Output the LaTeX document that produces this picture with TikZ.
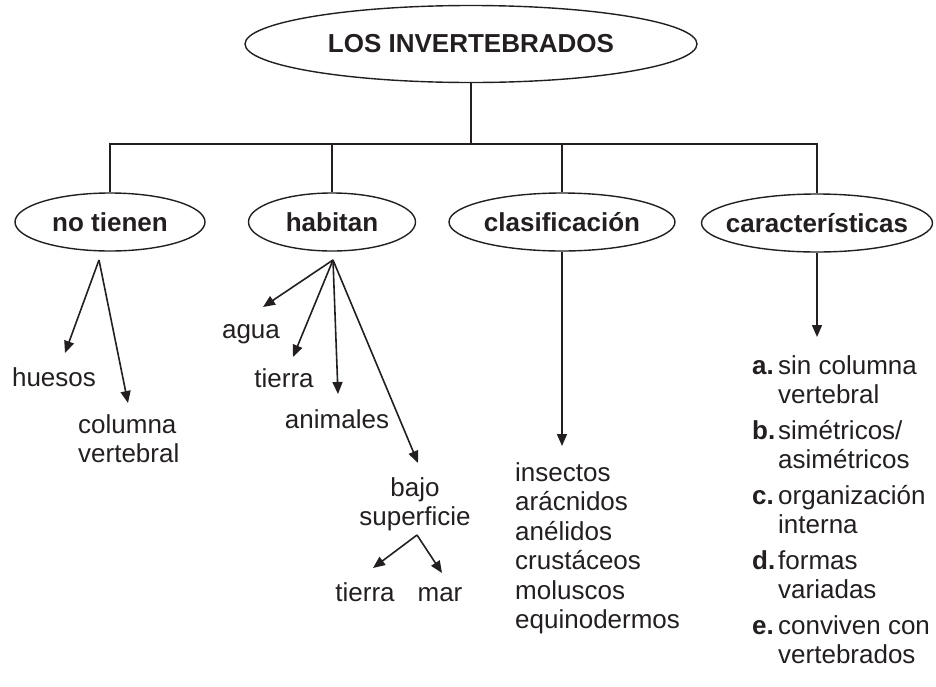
\documentclass[tikz,border=0pt]{standalone}
\usepackage{fontspec}
\setmainfont{Liberation Sans}
\usetikzlibrary{arrows.meta, shapes.geometric}

\definecolor{ink}{RGB}{35,31,32}

\begin{document}
\begin{tikzpicture}[
    x=1pt, y=-1pt,
    line_style/.style={line width=1.6pt, draw=ink},
    arrow_style/.style={line_style, -{Triangle[length=12pt, width=10pt]}},
    oval_style/.style={ellipse, draw=ink, line width=1.4pt, inner sep=0pt, minimum height=58pt},
    oval_label/.style={font=\fontsize{26}{30}\selectfont\bfseries, text=ink},
    text_style/.style={font=\fontsize{26}{29.5}\selectfont, text=ink, inner sep=0pt},
    item_label/.style={text_style, font=\fontsize{26}{29.5}\selectfont\bfseries}
]
    \useasboundingbox (0,0) rectangle (936,686);

    % Ovals
    \node[oval_style, minimum width=452pt, minimum height=77pt,
          label={[oval_label]center:LOS INVERTEBRADOS}] (title) at (471,44) {};
    \node[oval_style, minimum width=190pt, label={[oval_label]center:no tienen}] (notienen) at (110,222) {};
    \node[oval_style, minimum width=167pt, label={[oval_label]center:habitan}] (habitan) at (332,222) {};
    \node[oval_style, minimum width=226pt, label={[oval_label]center:clasificación}] (clasif) at (562,222) {};
    \node[oval_style, minimum width=231pt, label={[oval_label]center:características}] (caract) at (817,223) {};

    % Tree lines
    \coordinate (bar) at (471,144);
    \draw[line_style] (title.south) -- (bar);
    \draw[line_style] (notienen.north) -- (notienen.north |- bar) -- (caract.north |- bar) -- (caract.north);
    \draw[line_style] (habitan.north) -- (habitan.north |- bar);
    \draw[line_style] (clasif.north) -- (clasif.north |- bar);

    % Texts
    \node[text_style, anchor=base] (huesos) at (54,386) {huesos};
    \node[text_style, anchor=north west, align=left] (columna) at (78,414) {columna\\vertebral};
    \node[text_style, anchor=base] (agua) at (251,338) {agua};
    \node[text_style, anchor=base] (tierra) at (284,387) {tierra};
    \node[text_style, anchor=base] (animales) at (337,428) {animales};
    \node[text_style, anchor=north, align=center] (bajo) at (415,477) {bajo\\superficie};
    \node[text_style, anchor=base] (tierra_bajo) at (365,601) {tierra};
    \node[text_style, anchor=base] (mar) at (440,601) {mar};
    \node[text_style, anchor=north west, align=left] (grupos) at (515,462)
        {insectos\\arácnidos\\anélidos\\crustáceos\\moluscos\\equinodermos};

    % Characteristics
    \node[item_label, anchor=base west] (item_a) at (752,374) {a.};
    \node[text_style, anchor=north west, align=left] (text_a) at (778,355) {sin columna\\vertebral};
    \node[item_label, anchor=base west] (item_b) at (752,439) {b.};
    \node[text_style, anchor=north west, align=left] (text_b) at (778,420) {simétricos/\\asimétricos};
    \node[item_label, anchor=base west] (item_c) at (752,504) {c.};
    \node[text_style, anchor=north west, align=left] (text_c) at (778,485) {organización\\interna};
    \node[item_label, anchor=base west] (item_d) at (752,569) {d.};
    \node[text_style, anchor=north west, align=left] (text_d) at (778,550) {formas\\variadas};
    \node[item_label, anchor=base west] (item_e) at (752,634) {e.};
    \node[text_style, anchor=north west, align=left] (text_e) at (778,615) {conviven con\\vertebrados};

    % Arrows
    \coordinate (notienen_fork) at (99,260);
    \coordinate (huesos_tip) at (65,353);
    \coordinate (columna_tip) at (128,403);
    \draw[arrow_style] (notienen_fork) -- (huesos_tip);
    \draw[arrow_style] (notienen_fork) -- (columna_tip);

    \coordinate (habitan_fork) at (333,260);
    \coordinate (agua_tip) at (263,307);
    \coordinate (tierra_tip) at (293,357);
    \coordinate (animales_tip) at (338,394);
    \coordinate (bajo_tip) at (418,463);
    \draw[arrow_style] (habitan_fork) -- (agua_tip);
    \draw[arrow_style] (habitan_fork) -- (tierra_tip);
    \draw[arrow_style] (habitan_fork) -- (animales_tip);
    \draw[arrow_style] (habitan_fork) -- (bajo_tip);

    \coordinate (bajo_fork) at (417,535);
    \coordinate (tierra_bajo_tip) at (373,568);
    \coordinate (mar_tip) at (442,573);
    \draw[arrow_style] (bajo_fork) -- (tierra_bajo_tip);
    \draw[arrow_style] (bajo_fork) -- (mar_tip);

    \coordinate (clasif_tip) at (562,446);
    \draw[arrow_style] (clasif.south) -- (clasif_tip);
    \coordinate (caract_tip) at (817,337);
    \draw[arrow_style] (caract.south) -- (caract_tip);

\end{tikzpicture}
\end{document}
